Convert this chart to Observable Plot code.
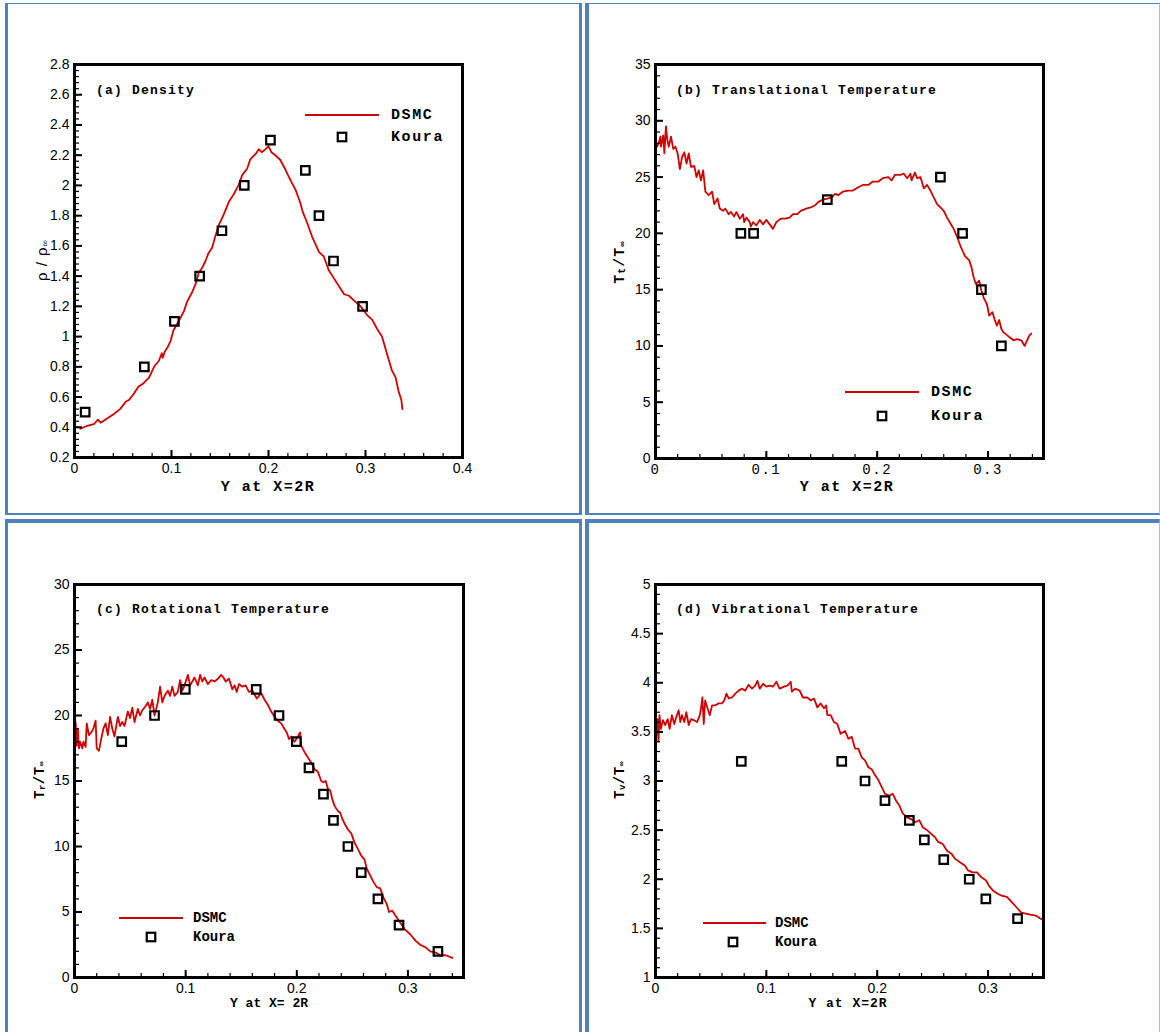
<!DOCTYPE html>
<html><head><meta charset="utf-8">
<script src="https://cdn.jsdelivr.net/npm/d3@7"></script>
<script src="https://cdn.jsdelivr.net/npm/@observablehq/plot@0.6"></script>
<style>
body{margin:0;background:#fff;width:1160px;height:1032px;position:relative;overflow:hidden;font-family:"Liberation Sans",Arial,sans-serif;}
.chart{position:absolute;}
.cell{position:absolute;box-sizing:border-box;border-style:solid;border-color:#4f81bd;pointer-events:none;}
</style></head><body>
<div id="A" class="chart" style="left:0;top:0"></div>
<div id="B" class="chart" style="left:580px;top:0"></div>
<div id="C" class="chart" style="left:0;top:515px"></div>
<div id="D" class="chart" style="left:580px;top:515px"></div>
<div class="cell" style="left:5px;top:3px;width:577px;height:512px;border-width:1px 3px 2px 3px;"></div>
<div class="cell" style="left:585px;top:3px;width:575px;height:512px;border-width:1px 1px 2px 4px;border-right-color:#a9bfdc;"></div>
<div class="cell" style="left:5px;top:519px;width:577px;height:530px;border-width:4px 3px 0 3px;"></div>
<div class="cell" style="left:585px;top:519px;width:575px;height:530px;border-width:4px 1px 0 4px;border-right-color:#a9bfdc;"></div>
<script>
// ---------- (a) Density ----------
const aDsmcX = [0.006,0.013,0.020,0.024,0.027,0.034,0.041,0.047,0.053,0.056,0.061,0.066,0.071,0.077,0.082,0.087,0.090,0.091,0.093,0.096,0.099,0.102,0.108,0.113,0.116,0.121,0.125,0.128,0.132,0.135,0.138,0.142,0.145,0.149,0.154,0.159,0.164,0.169,0.173,0.178,0.181,0.187,0.190,0.193,0.197,0.200,0.203,0.207,0.212,0.217,0.223,0.228,0.233,0.235,0.240,0.245,0.252,0.257,0.262,0.267,0.273,0.278,0.283,0.288,0.295,0.302,0.307,0.312,0.317,0.322,0.327,0.331,0.334,0.337,0.338];
const aDsmcY = [0.39,0.41,0.42,0.45,0.43,0.46,0.49,0.52,0.57,0.58,0.62,0.67,0.69,0.73,0.80,0.84,0.89,0.86,0.90,0.93,0.97,1.04,1.11,1.17,1.23,1.29,1.35,1.42,1.46,1.50,1.55,1.59,1.66,1.74,1.81,1.89,1.94,2.00,2.07,2.11,2.17,2.21,2.24,2.22,2.24,2.26,2.22,2.20,2.17,2.11,2.03,1.97,1.88,1.83,1.75,1.66,1.56,1.53,1.44,1.39,1.33,1.28,1.27,1.24,1.20,1.14,1.11,1.05,1.00,0.89,0.78,0.73,0.64,0.58,0.52];
const aKouraX = [0.011,0.072,0.103,0.129,0.152,0.175,0.202,0.238,0.252,0.267,0.297];
const aKouraY = [0.5,0.8,1.1,1.4,1.7,2.0,2.3,2.1,1.8,1.5,1.2];
const aXTicks = [0,0.1,0.2,0.3,0.4];
const aYTicks = [0.2,0.4,0.6,0.8,1,1.2,1.4,1.6,1.8,2,2.2,2.4,2.6,2.8];

// ---------- (b) Translational temperature ----------
const bDsmcX = [0.0015,0.003,0.0045,0.005,0.007,0.008,0.0094,0.0106,0.012,0.014,0.016,0.018,0.020,0.022,0.024,0.026,0.028,0.030,0.032,0.035,0.037,0.039,0.041,0.043,0.045,0.048,0.051,0.053,0.056,0.058,0.061,0.063,0.066,0.068,0.071,0.073,0.076,0.079,0.080,0.082,0.085,0.086,0.088,0.091,0.094,0.097,0.100,0.103,0.106,0.109,0.113,0.117,0.121,0.124,0.128,0.131,0.136,0.140,0.144,0.147,0.151,0.156,0.159,0.162,0.165,0.169,0.174,0.178,0.183,0.187,0.192,0.196,0.201,0.205,0.210,0.213,0.216,0.221,0.224,0.227,0.230,0.231,0.234,0.236,0.239,0.242,0.245,0.248,0.251,0.254,0.257,0.260,0.263,0.266,0.269,0.272,0.275,0.279,0.283,0.285,0.287,0.289,0.292,0.294,0.296,0.299,0.301,0.304,0.306,0.308,0.310,0.312,0.314,0.319,0.323,0.326,0.330,0.333,0.337,0.339];
const bDsmcY = [27.7,28.1,28.6,27.7,28.7,27.1,29.5,28.3,27.7,28.6,27.5,27.7,27.1,25.7,26.8,27.2,26.2,27.1,25.9,26.0,25.0,25.6,24.7,25.6,23.7,23.4,23.7,22.6,23.1,22.2,22.0,22.2,21.7,21.9,21.5,21.9,21.3,21.7,21.0,21.4,21.0,20.6,21.0,20.7,21.2,20.8,21.2,20.8,20.4,21.0,21.3,21.3,21.4,21.7,21.7,22.0,22.2,22.3,22.5,22.8,23.0,23.1,23.2,23.5,23.4,23.7,23.8,23.8,24.1,24.3,24.3,24.6,24.6,24.9,25.0,24.7,25.2,25.2,25.3,24.9,25.3,24.7,25.4,24.9,25.0,24.0,24.3,23.8,23.2,22.6,22.3,22.0,21.4,20.9,20.4,19.7,18.9,18.0,17.6,17.0,16.1,15.5,15.8,14.9,14.3,13.7,12.7,13.0,12.3,11.8,12.3,11.5,11.2,10.8,10.5,10.6,10.5,10.0,10.9,11.1];
const bKouraX = [0.077,0.0885,0.155,0.257,0.277,0.294,0.312];
const bKouraY = [20,20,23,25,20,15,10];
const bXTicks = [0,0.1,0.2,0.3];
const bYTicks = [0,5,10,15,20,25,30,35];

// ---------- (c) Rotational temperature ----------
const cDsmcX = [0.001,0.002,0.003,0.004,0.005,0.007,0.008,0.010,0.011,0.013,0.015,0.017,0.019,0.020,0.022,0.024,0.026,0.028,0.030,0.032,0.034,0.036,0.039,0.041,0.043,0.045,0.048,0.050,0.052,0.054,0.057,0.059,0.061,0.063,0.066,0.068,0.070,0.072,0.075,0.077,0.079,0.081,0.084,0.086,0.088,0.090,0.093,0.095,0.097,0.099,0.102,0.104,0.106,0.108,0.111,0.113,0.115,0.117,0.120,0.123,0.126,0.129,0.132,0.134,0.136,0.139,0.142,0.144,0.146,0.148,0.151,0.154,0.157,0.160,0.164,0.166,0.168,0.171,0.174,0.177,0.180,0.183,0.186,0.188,0.191,0.193,0.195,0.198,0.201,0.203,0.204,0.207,0.210,0.213,0.216,0.219,0.222,0.224,0.226,0.228,0.230,0.232,0.234,0.237,0.239,0.241,0.244,0.246,0.249,0.252,0.255,0.258,0.261,0.263,0.266,0.269,0.272,0.275,0.278,0.281,0.283,0.286,0.289,0.293,0.297,0.302,0.307,0.311,0.316,0.320,0.325,0.329,0.334,0.340];
const cDsmcY = [19.5,17.7,19.0,17.5,18.0,17.5,18.0,17.6,19.4,18.5,18.7,19.0,19.6,17.5,17.3,18.2,19.0,19.4,18.5,19.9,19.0,18.4,19.9,19.2,19.5,19.2,20.3,19.8,20.6,19.5,20.5,20.0,20.4,20.6,21.0,20.5,21.2,20.0,21.0,22.2,21.0,21.5,21.9,21.5,22.2,21.5,21.8,22.7,21.9,22.3,23.1,22.3,22.6,22.9,22.3,23.1,22.6,22.9,22.4,22.7,22.6,22.8,23.1,22.9,22.6,22.8,22.0,22.3,21.8,22.4,22.2,22.3,21.8,21.9,21.3,21.5,21.7,21.2,20.8,20.3,19.9,19.6,19.4,19.1,18.7,18.2,18.4,18.0,18.4,18.7,17.7,17.2,16.8,16.4,15.9,15.7,15.0,14.9,15.0,14.4,14.3,13.6,13.1,12.7,12.6,12.1,11.6,11.3,11.0,10.3,9.8,9.3,9.0,8.3,7.8,7.3,6.9,6.8,6.1,5.6,5.0,5.1,4.7,4.2,3.7,3.3,2.8,2.5,2.3,2.0,1.9,1.7,1.7,1.5];
const cKouraX = [0.0425,0.072,0.0997,0.1635,0.184,0.1996,0.211,0.224,0.233,0.246,0.258,0.273,0.292,0.327];
const cKouraY = [18,20,22,22,20,18,16,14,12,10,8,6,4,2];
const cXTicks = [0,0.1,0.2,0.3];
const cYTicks = [0,5,10,15,20,25,30];

// ---------- (d) Vibrational temperature ----------
const dDsmcX = [0.0006,0.0018,0.0027,0.0036,0.0048,0.0067,0.0088,0.011,0.0127,0.0148,0.0169,0.0187,0.0209,0.0224,0.0239,0.026,0.0278,0.030,0.032,0.0345,0.0375,0.040,0.041,0.0423,0.0435,0.0448,0.0466,0.049,0.051,0.054,0.057,0.060,0.062,0.064,0.066,0.069,0.072,0.075,0.078,0.081,0.084,0.087,0.090,0.092,0.094,0.097,0.100,0.103,0.106,0.109,0.112,0.116,0.119,0.122,0.123,0.126,0.130,0.133,0.137,0.140,0.143,0.146,0.149,0.152,0.154,0.155,0.158,0.161,0.164,0.167,0.171,0.174,0.177,0.180,0.183,0.186,0.189,0.192,0.195,0.198,0.201,0.204,0.207,0.211,0.214,0.217,0.220,0.223,0.227,0.231,0.234,0.238,0.241,0.245,0.249,0.252,0.255,0.259,0.263,0.267,0.270,0.275,0.279,0.282,0.286,0.290,0.294,0.298,0.301,0.305,0.309,0.313,0.317,0.322,0.326,0.330,0.334,0.338,0.343,0.347,0.349,0.351];
const dDsmcY = [3.46,3.63,3.40,3.67,3.53,3.62,3.57,3.63,3.53,3.67,3.58,3.65,3.72,3.60,3.67,3.60,3.70,3.57,3.63,3.62,3.60,3.67,3.74,3.85,3.58,3.82,3.75,3.67,3.77,3.77,3.79,3.79,3.82,3.89,3.84,3.85,3.89,3.92,3.94,3.92,3.98,3.94,3.97,4.02,3.94,3.99,3.96,3.97,3.96,4.01,3.94,3.96,3.97,4.01,3.91,3.94,3.92,3.85,3.85,3.82,3.84,3.75,3.79,3.74,3.77,3.67,3.67,3.60,3.58,3.48,3.51,3.43,3.45,3.33,3.33,3.24,3.21,3.14,3.12,3.06,3.01,2.94,2.87,2.85,2.87,2.80,2.75,2.67,2.63,2.61,2.58,2.60,2.53,2.50,2.46,2.43,2.38,2.36,2.29,2.26,2.21,2.17,2.14,2.09,2.07,2.07,2.02,1.99,1.93,1.88,1.85,1.83,1.82,1.76,1.71,1.66,1.65,1.64,1.63,1.60,1.59,1.63];
const dKouraX = [0.0774,0.168,0.189,0.207,0.229,0.2425,0.260,0.283,0.298,0.3266];
const dKouraY = [3.2,3.2,3.0,2.8,2.6,2.4,2.2,2.0,1.8,1.6];
const dXTicks = [0,0.1,0.2,0.3];
const dYTicks = [1,1.5,2,2.5,3,3.5,4,4.5,5];

const RED = "#d20000";
const SANS = "'Liberation Sans', Arial, sans-serif";
const MONO = "'Liberation Mono', 'Courier New', monospace";
const zip = (xs, ys) => xs.map((x, i) => ({x, y: ys[i]}));
const fmt = d => String(+d.toFixed(4));

function panel(o) {
  const iw = o.width - o.ml - o.mr, ih = o.height - o.mt - o.mb;
  const svg = Plot.plot({
    width: o.width, height: o.height,
    marginLeft: o.ml, marginRight: o.mr, marginTop: o.mt, marginBottom: o.mb,
    style: {background: "transparent", fontFamily: SANS, fontSize: "14px", color: "black", overflow: "visible"},
    x: {domain: o.xDomain, label: null},
    y: {domain: o.yDomain, label: null},
    marks: [
      Plot.line(zip(o.dsmcX, o.dsmcY), {x: "x", y: "y", stroke: RED, strokeWidth: 1.8, clip: true}),
      Plot.tickX(o.xMinor, {x: d => d, insetTop: ih - 4, stroke: "black", strokeWidth: 1.2}),
      Plot.tickX(o.xTicks, {x: d => d, insetTop: ih - 7, stroke: "black", strokeWidth: 2}),
      Plot.tickY(o.yMinor, {y: d => d, insetRight: iw - 5, stroke: "black", strokeWidth: 1.2}),
      Plot.tickY(o.yTicks, {y: d => d, insetRight: iw - 8, stroke: "black", strokeWidth: 2}),
      Plot.frame({stroke: "black", strokeWidth: 3}),
      Plot.axisX(o.xTicks, {tickSize: 0, tickPadding: 6, fontSize: 14, fontFamily: o.xTickFont || SANS, tickFormat: fmt, label: null}),
      Plot.axisY(o.yTicks, {tickSize: 0, tickPadding: 5, fontSize: 14, fontFamily: SANS, tickFormat: fmt, label: null}),
      Plot.dot(zip(o.kouraX, o.kouraY), {x: "x", y: "y", symbol: "square", r: 4.8, stroke: "black", strokeWidth: 2.2, fill: "none"})
    ]
  });
  const s = d3.select(svg);
  if (o.xTickSpacing) s.selectAll('g[aria-label="x-axis tick label"] text').style("letter-spacing", o.xTickSpacing);
  // title
  s.append("text").attr("x", o.title.x).attr("y", o.title.y).attr("text-anchor", "start").attr("dominant-baseline", "middle")
    .style("font", `bold 13px ${MONO}`).style("letter-spacing", "1.2px").attr("xml:space", "preserve").text(o.title.text);
  // x axis label
  s.append("text").attr("x", o.xl.x).attr("y", o.xl.y).attr("text-anchor", "middle").attr("dominant-baseline", "middle")
    .style("font", `bold ${o.xl.size}px ${MONO}`).style("letter-spacing", o.xl.ls + "px").attr("xml:space", "preserve").text(o.xl.text);
  // y axis label (rotated, with subscripts)
  const yt = s.append("text").attr("transform", `translate(${o.yl.x},${o.yl.y}) rotate(-90)`)
    .attr("text-anchor", "middle").attr("dominant-baseline", "middle")
    .style("font", o.yl.font).style("letter-spacing", o.yl.ls || "0px");
  o.yl.parts.forEach(p => {
    const t = yt.append("tspan").text(p.t);
    if (p.sub) t.attr("baseline-shift", "-25%").style("font-size", p.sub + "px");
  });
  // legend
  const L = o.legend;
  const g = s.append("g");
  g.append("line").attr("x1", L.x1).attr("x2", L.x2).attr("y1", L.y1).attr("y2", L.y1).attr("stroke", RED).attr("stroke-width", 1.8);
  g.append("rect").attr("x", L.sx - 4.25).attr("y", L.sy - 4.25).attr("width", 8.5).attr("height", 8.5)
    .attr("fill", "none").attr("stroke", "black").attr("stroke-width", 2.2);
  [["DSMC", L.y1], ["Koura", L.sy]].forEach(([t, y]) => {
    g.append("text").attr("x", L.tx).attr("y", y).attr("text-anchor", "start").attr("dominant-baseline", "middle")
      .style("font", `bold ${L.size}px ${MONO}`).style("letter-spacing", L.ls + "px").text(t);
  });
  return svg;
}

document.getElementById("A").append(panel({
  width: 580, height: 515, ml: 74, mr: 118, mt: 64, mb: 58,
  xDomain: [0, 0.4], yDomain: [0.2, 2.8],
  xTicks: aXTicks, yTicks: aYTicks,
  xMinor: d3.range(0, 0.4001, 0.02), yMinor: d3.range(0.2, 2.8001, 0.04),
  dsmcX: aDsmcX, dsmcY: aDsmcY, kouraX: aKouraX, kouraY: aKouraY,
  title: {x: 96, y: 91, text: "(a) Density"},
  xl: {x: 268, y: 487, size: 15, ls: 1.5, text: "Y at X=2R"},
  yl: {x: 43, y: 260, font: `15px ${SANS}`, ls: "1px", parts: [{t: "ρ / ρ"}, {t: "∞", sub: 9}]},
  legend: {x1: 305, x2: 379, y1: 115, tx: 391, sx: 342, sy: 137, size: 15, ls: 1.6}
}));

document.getElementById("B").append(panel({
  width: 580, height: 515, ml: 75, mr: 117, mt: 64, mb: 57,
  xDomain: [0, 0.35], yDomain: [0, 35],
  xTicks: bXTicks, yTicks: bYTicks,
  xMinor: d3.range(0, 0.3501, 0.02), yMinor: d3.range(0, 35.001, 1),
  xTickFont: MONO, xTickSpacing: "1.5px",
  dsmcX: bDsmcX, dsmcY: bDsmcY, kouraX: bKouraX, kouraY: bKouraY,
  title: {x: 96, y: 91, text: "(b) Translational Temperature"},
  xl: {x: 267, y: 487, size: 15, ls: 1.5, text: "Y at X=2R"},
  yl: {x: 40, y: 262, font: `bold 15px ${MONO}`, ls: "1px", parts: [{t: "T"}, {t: "t", sub: 10}, {t: "/T"}, {t: "∞", sub: 9}]},
  legend: {x1: 265, x2: 339, y1: 392, tx: 351, sx: 302, sy: 416, size: 15, ls: 1.6}
}));

document.getElementById("C").append(panel({
  width: 580, height: 517, ml: 74, mr: 117, mt: 69, mb: 55,
  xDomain: [0, 0.35], yDomain: [0, 30],
  xTicks: cXTicks, yTicks: cYTicks,
  xMinor: d3.range(0, 0.3501, 0.02), yMinor: d3.range(0, 30.001, 1),
  dsmcX: cDsmcX, dsmcY: cDsmcY, kouraX: cKouraX, kouraY: cKouraY,
  title: {x: 96, y: 95, text: "(c) Rotational Temperature"},
  xl: {x: 269, y: 489, size: 13, ls: 0, text: "Y at X= 2R"},
  yl: {x: 40, y: 265, font: `bold 14px ${MONO}`, ls: "0.5px", parts: [{t: "T"}, {t: "r", sub: 9}, {t: "/T"}, {t: "∞", sub: 8}]},
  legend: {x1: 119, x2: 183, y1: 403, tx: 193, sx: 151, sy: 422, size: 14, ls: 0}
}));

document.getElementById("D").append(panel({
  width: 580, height: 517, ml: 75, mr: 117, mt: 69, mb: 55,
  xDomain: [0, 0.35], yDomain: [1, 5],
  xTicks: dXTicks, yTicks: dYTicks,
  xMinor: d3.range(0, 0.3501, 0.02), yMinor: d3.range(1, 5.0001, 0.1),
  dsmcX: dDsmcX, dsmcY: dDsmcY, kouraX: dKouraX, kouraY: dKouraY,
  title: {x: 96, y: 95, text: "(d) Vibrational Temperature"},
  xl: {x: 268, y: 489, size: 13, ls: 1, text: "Y at X=2R"},
  yl: {x: 40, y: 265, font: `bold 14px ${MONO}`, ls: "0.5px", parts: [{t: "T"}, {t: "v", sub: 9}, {t: "/T"}, {t: "∞", sub: 8}]},
  legend: {x1: 123, x2: 186, y1: 408, tx: 195, sx: 153, sy: 427, size: 14, ls: 0}
}));
</script>
</body></html>
